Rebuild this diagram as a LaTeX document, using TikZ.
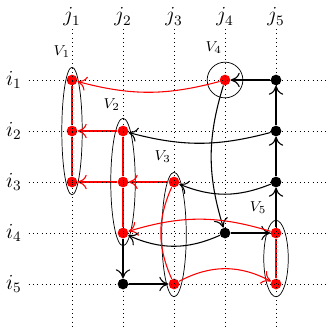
\documentclass[tikz,border=0pt]{standalone}
\usepackage{xcolor}
\usepackage{tikz}
\usetikzlibrary{arrows.meta}
\begin{document}
\begin{tikzpicture}[
  pt/.style={circle,fill=black,inner sep=0pt,minimum size=2.1mm},
  rpt/.style={pt,fill=red},
  arr/.style={semithick,-{To[length=5pt,width=8pt]}},
  rarr/.style={arr,red},
  vlab/.style={font=\footnotesize}
]
\useasboundingbox (-0.412,-5.882) rectangle (5.98,0.569);
\node[rpt] (p11) at (1,-1) {};
\node[rpt] (p21) at (1,-2) {};
\node[rpt] (p31) at (1,-3) {};
\node[rpt] (p22) at (2,-2) {};
\node[rpt] (p32) at (2,-3) {};
\node[rpt] (p42) at (2,-4) {};
\node[rpt] (p33) at (3,-3) {};
\node[rpt] (p53) at (3,-5) {};
\node[rpt] (p14) at (4,-1) {};
\node[rpt] (p45) at (5,-4) {};
\node[rpt] (p55) at (5,-5) {};
\node[pt] (p15) at (5,-1) {};
\node[pt] (p25) at (5,-2) {};
\node[pt] (p35) at (5,-3) {};
\node[pt] (p44) at (4,-4) {};
\node[pt] (p52) at (2,-5) {};
\draw (1,-2) ellipse (0.2 and 1.25);
\draw (2,-3) ellipse (0.24 and 1.25);
\draw (3,-4.03) ellipse (0.24 and 1.22);
\draw (p14.center) circle (0.35);
\draw (5,-4.5) ellipse (0.24 and 0.75);
\node[vlab] (v1) at (0.8,-0.45) {$V_1$};
\node[vlab] (v2) at (1.78,-1.49) {$V_2$};
\node[vlab] (v3) at (2.78,-2.51) {$V_3$};
\node[vlab] (v4) at (3.78,-0.37) {$V_4$};
\node[vlab] (v5) at (4.65,-3.51) {$V_5$};
\draw[arr] (p15) -- (p14);
\draw[arr] (p25) -- (p15);
\draw[arr] (p35) -- (p25);
\draw[arr] (p45) -- (p35);
\draw[arr] (p25) to[bend left=15] (p22);
\draw[arr] (p35) to[bend left=22] (p33);
\draw[arr] (p14) to[bend right=17] (p44);
\draw[arr] (p44) to[bend left=24] (p42);
\draw[arr] (p44) -- (p45);
\draw[arr] (p42) -- (p52);
\draw[arr] (p52) -- (p53);
\draw[red,semithick] (p11) -- (p21) -- (p31);
\draw[red,semithick] (p22) -- (p32) -- (p42);
\draw[red,semithick] (p45) -- (p55);
\draw[rarr] (p14) to[bend left=15] (p11);
\draw[rarr] (p22) -- (p21);
\draw[rarr] (p32) -- (p31);
\draw[rarr] (p33) -- (p32);
\draw[rarr] (p45) to[bend right=17] (p42);
\draw[rarr] (p53) to[bend left=28] (p55);
\draw[red,semithick] (p33) to[bend right=24] (p53);
\foreach \k in {1,...,5} {
  \draw[dotted] (\k,0) -- (\k,-5.882);
  \draw[dotted] (0.15,-\k) -- (5.98,-\k);
  \node[font=\large] (i\k) at (-0.14,-\k) {$i_\k$};
  \node[font=\large] (j\k) at (\k,0.235) {$j_\k$};
}
\end{tikzpicture}
\end{document}
